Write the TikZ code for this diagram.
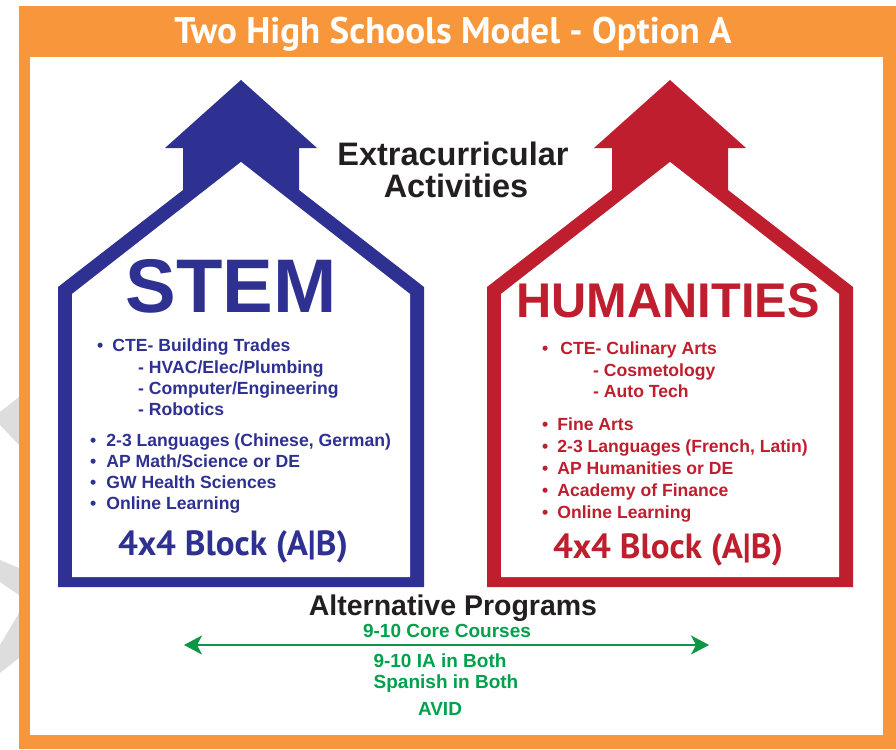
\documentclass[tikz,border=0pt]{standalone}
\usepackage{fontspec}
\setmainfont{Liberation Sans}
\newfontfamily\myriad{PT Sans}
\usetikzlibrary{arrows.meta}

\definecolor{frameorange}{HTML}{F7963A}
\definecolor{stemblue}{HTML}{2E3192}
\definecolor{humred}{HTML}{BE1E2D}
\definecolor{altgreen}{HTML}{00A14B}
\definecolor{arrowgreen}{HTML}{0E9647}
\definecolor{inkblack}{HTML}{231F20}
\definecolor{markgray}{HTML}{DDDDDD}

\begin{document}
\begin{tikzpicture}[x=1pt, y=-1pt,
    item/.style={anchor=base west, inner sep=0pt, font=\bfseries\fontsize{17.6}{20}\selectfont},
    bigname/.style={anchor=base, inner sep=0pt, font=\bfseries\fontsize{76}{80}\selectfont},
    blocktext/.style={anchor=base, inner sep=0pt, font=\myriad\bfseries\fontsize{35}{38}\selectfont},
    heading/.style={anchor=base, inner sep=0pt, text=inkblack, font=\bfseries\fontsize{32.5}{36}\selectfont},
    altitem/.style={anchor=base, inner sep=0pt, text=altgreen, font=\bfseries\fontsize{19}{22}\selectfont},
    altarrow/.style={arrowgreen, line width=2.5pt,
      {Stealth[length=18pt,width=19pt,inset=5pt]}-{Stealth[length=18pt,width=19pt,inset=5pt]}}]

    \useasboundingbox (0,0) rectangle (896,749);

    % watermark bits left of the frame
    \fill[markgray] (19,397) -- (19,445) -- (0,425) -- (0,412) -- cycle;
    \fill[markgray] (0,560) -- (19,568) -- (19,595) -- (0,582) -- cycle;
    \fill[markgray] (19,613) -- (19,658) -- (0,673) -- (0,645) -- cycle;

    \fill[frameorange] (19,6) rectangle (896,749);
    \fill[white] (30,57) rectangle (883,735);
    \node[anchor=base, inner sep=0pt, text=white, font=\myriad\bfseries\fontsize{37}{40}\selectfont]
      (title) at (453,44) {Two High Schools Model - Option A};

    \foreach \c/\m in {stemblue/241, humred/670} {
      \fill[\c] (\m-183,587) -- (\m-183,287) -- (\m-58,190) -- (\m-58,148) -- (\m-76,148)
        -- (\m,80) -- (\m+76,148) -- (\m+58,148) -- (\m+58,190) -- (\m+183,287)
        -- (\m+183,587) -- cycle;
      \fill[white] (\m-169,577) -- (\m-169,294) -- (\m,162) -- (\m+169,294) -- (\m+169,577) -- cycle;
    }

    \node[heading] (extra) at (453,165) {Extracurricular};
    \node[heading] (act) at (456,197) {Activities};

    % STEM school
    \node[bigname, text=stemblue] (stem) at (231,312) {STEM};
    \node[item, text=stemblue] (stemcte) at (97,351) {\textbullet\hspace{9pt}CTE- Building Trades};
    \foreach \txt [count=\i] in {HVAC/Elec/Plumbing, Computer/Engineering, Robotics}
      \node[item, text=stemblue] (stemsub\i) at (138,373+21*\i-21) {- \txt};
    \foreach \txt [count=\i] in {{2-3 Languages (Chinese, German)}, AP Math/Science or DE,
        GW Health Sciences, Online Learning}
      \node[item, text=stemblue] (stemb\i) at (90,446+21.3*\i-21.3) {\textbullet\hspace{10pt}\txt};
    \node[blocktext, text=stemblue] (stemblock) at (233,555) {4x4 Block (A|B)};

    % Humanities school
    \node[bigname, text=humred, font=\bfseries\fontsize{48.7}{52}\selectfont] (hum) at (668,317) {HUMANITIES};
    \node[item, text=humred] (humcte) at (542,354) {\textbullet\hspace{12pt}CTE- Culinary Arts};
    \foreach \txt [count=\i] in {Cosmetology, Auto Tech}
      \node[item, text=humred] (humsub\i) at (593,376+21*\i-21) {- \txt};
    \foreach \txt [count=\i] in {Fine Arts, {2-3 Languages (French, Latin)}, AP Humanities or DE,
        Academy of Finance, Online Learning}
      \node[item, text=humred] (humb\i) at (542,430+22*\i-22) {\textbullet\hspace{9pt}\txt};
    \node[blocktext, text=humred] (humblock) at (668,558) {4x4 Block (A|B)};

    % shared programs
    \node[heading, font=\bfseries\fontsize{28.5}{32}\selectfont] (alt) at (453,615) {Alternative Programs};
    \node[altitem] (core) at (447,637) {9-10 Core Courses};
    \coordinate (altL) at (184,645);
    \coordinate (altR) at (709,645);
    \draw[altarrow] (altL) -- (altR);
    \node[altitem] (ia) at (440,667) {9-10 IA in Both};
    \node[altitem] (span) at (446,688) {Spanish in Both};
    \node[altitem] (avid) at (440,715) {AVID};

  \end{tikzpicture}
\end{document}
